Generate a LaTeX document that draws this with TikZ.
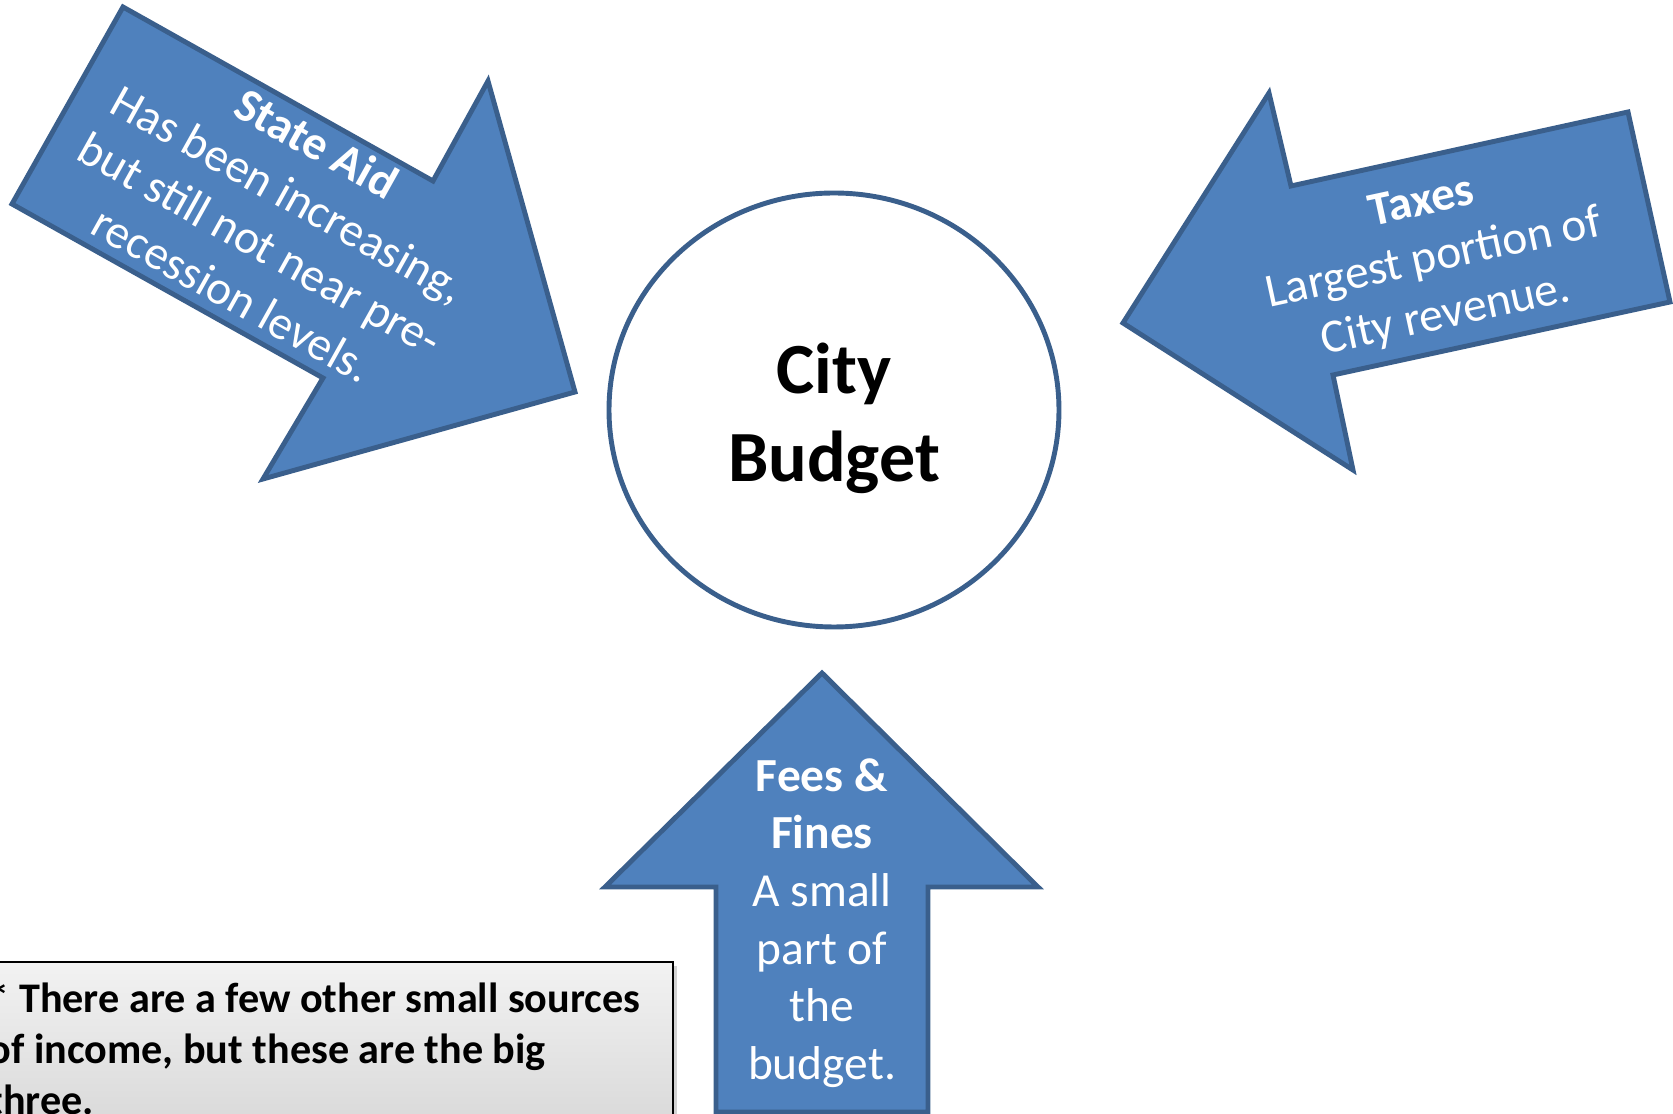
\documentclass[tikz,border=0pt]{standalone}
\usepackage{fontspec}
\setmainfont{Carlito}
\usetikzlibrary{shapes.geometric,shadows}
\definecolor{flowblue}{HTML}{4F81BD}
\definecolor{flowedge}{HTML}{3A5F8C}

\begin{document}
\begin{tikzpicture}[
    flow/.style={fill=flowblue, draw=flowedge, line width=1.4pt, line join=miter},
    flowtext/.style={text=white, align=center, inner sep=0pt, font=\fontsize{13.5}{16.4}\selectfont},
    budget/.style={ellipse, draw=flowedge, line width=1.4pt, fill=white, minimum width=4.5cm, minimum height=4.34cm},
    title/.style={align=center, inner sep=0pt, font=\fontsize{20.5}{25}\selectfont\bfseries},
    notebox/.style={draw=black, line width=0.6pt, top color=gray!10, bottom color=gray!32,
        drop shadow={shadow xshift=0.04cm, shadow yshift=-0.04cm, opacity=0.35}},
    notetext/.style={align=left, inner sep=0pt, anchor=north west, font=\fontsize{12}{14.5}\selectfont\bfseries}
]

    \useasboundingbox (0,0) rectangle (16.73,11.14);

    % centre
    \node [budget] (budget) at (8.34,7.04) {};
    \node [title] (budgettext) at (8.34,6.955) {City\\Budget};

    % state aid
    \draw [flow] (1.23,11.07) -- (4.33,9.33) -- (4.88,10.33) -- (5.75,7.22) -- (2.63,6.35) -- (3.23,7.36) -- (0.12,9.10) -- cycle;
    \node [flowtext, rotate=-29.2] (stateaid) at (2.745,8.953) {\textbf{State Aid}\\Has been increasing,\\but still not near pre-\\recession levels.};

    % taxes
    \draw [flow] (11.23,7.91) -- (12.69,10.21) -- (12.91,9.28) -- (16.28,10.02) -- (16.70,8.12) -- (13.33,7.39) -- (13.53,6.44) -- cycle;
    \node [flowtext, rotate=12.2] (taxes) at (14.34,8.54) {\textbf{Taxes}\\Largest portion of\\City revenue.};

    % fees and fines
    \draw [flow] (8.22,4.41) -- (10.38,2.27) -- (9.28,2.27) -- (9.28,0.02) -- (7.16,0.02) -- (7.16,2.27) -- (6.05,2.27) -- cycle;
    \node [flowtext] (fees) at (8.22,1.91) {\textbf{Fees \&}\\\textbf{Fines}\\A small\\part of\\the\\budget.};

    % note
    \draw [notebox] (-0.3,-0.3) rectangle (6.73,1.52);
    \node [notetext] (note) at (-0.12,1.32) {* There are a few other small sources\\of income, but these are the big\\three.};

\end{tikzpicture}
\end{document}
